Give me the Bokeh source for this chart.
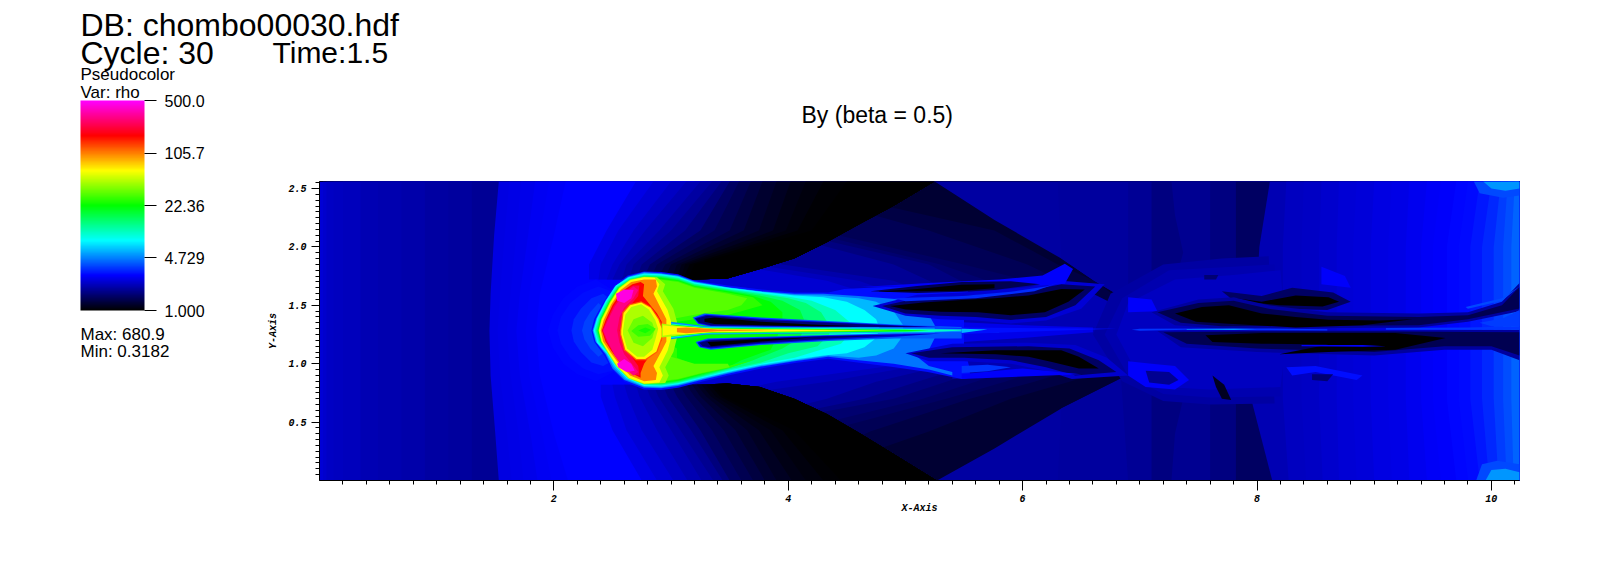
from bokeh.core.properties import value
from bokeh.embed import file_html
from bokeh.models import (ColorBar, ColumnDataSource, FixedTicker, LogColorMapper,
                          NumeralTickFormatter, Range1d)
from bokeh.plotting import figure
from bokeh.resources import INLINE
import numpy as np

# ---- texts and legend values ----
header_db = "DB: chombo00030.hdf"
header_cycle = "Cycle: 30"
header_time = "Time:1.5"
plot_title = "By (beta = 0.5)"
legend_name = "Pseudocolor"
legend_var = "Var: rho"
legend_max = "Max:  680.9"
legend_min = "Min:  0.3182"
legend_ticks = [1.0, 4.729, 22.36, 105.7, 500.0]
legend_labels = ["1.000", "4.729", "22.36", "105.7", "500.0"]
rho_low, rho_high = 1.0, 500.0
x_major = [2, 4, 6, 8, 10]
y_major = [0.5, 1.0, 1.5, 2.0, 2.5]
x_extent = (0.0, 10.24)
y_extent = (0.0, 2.56)
map_stops = ["#000000", "#0000ff", "#00ffff", "#00ff00", "#ffff00", "#ff0000", "#ff00ff"]

# ---- density field (rho, outline in axis units) ----
left_strip_x = [0.0, 0.03, 0.06, 0.12, 0.2, 0.35, 0.5, 0.7, 0.9, 1.1, 1.3]
left_strip_rho = [2.4, 2.3, 2.25, 2.2, 2.15, 2.1, 2.05, 2.0, 1.95, 1.9, 1.85]

front_y = [2.56, 2.1, 1.6, 1.28, 0.9, 0.4, 0.0]
front_rho = [2.5, 2.56, 2.62, 2.68, 2.74, 2.82]
front_x = [
    [1.53, 1.49, 1.46, 1.45, 1.46, 1.5, 1.53],
    [1.62, 1.58, 1.54, 1.52, 1.54, 1.6, 1.64],
    [1.72, 1.68, 1.63, 1.6, 1.63, 1.7, 1.74],
    [1.84, 1.78, 1.71, 1.68, 1.71, 1.8, 1.86],
    [1.96, 1.88, 1.79, 1.76, 1.79, 1.9, 1.98],
    [2.1, 2.0, 1.88, 1.85, 1.88, 2.0, 2.12],
]

# bright-to-dark contours inside the wedge between the black zones and the oblique shocks
wedge_y = [2.56, 2.14, 1.85, 1.71, 1.5, 1.0, 0.845, 0.7, 0.42, 0.0]
wedge_rho = [2.37, 2.16, 2.0, 1.84, 1.7, 1.59, 1.5, 1.42, 1.32, 1.25]
wedge_x = [
    [2.9, 2.9, 2.9, 3.2, 3.6, 3.6, 3.2, 2.9, 2.9, 2.9],
    [3.2, 3.2, 3.5, 4.33, 5.0, 5.0, 3.9, 3.2, 3.2, 3.2],
    [3.2, 3.3, 3.7, 4.6, 5.2, 5.2, 4.33, 3.3, 3.2, 3.2],
    [3.2, 3.5, 3.95, 4.9, 5.4, 5.4, 4.75, 4.33, 3.2, 3.2],
    [3.3, 3.8, 4.9, 5.2, 5.6, 5.6, 5.1, 4.65, 3.3, 3.3],
    [3.3, 3.95, 5.2, 5.47, 5.8, 5.8, 5.35, 4.9, 3.4, 3.4],
    [3.3, 4.1, 5.3, 5.7, 6.0, 6.0, 5.6, 5.15, 4.0, 3.5],
    [3.5, 4.25, 5.5, 6.04, 6.3, 6.3, 5.85, 5.35, 4.3, 3.6],
    [3.7, 5.2, 6.04, 6.33, 6.6, 6.6, 6.1, 5.55, 4.7, 3.8],
    [3.9, 5.76, 6.3, 6.61, 6.9, 6.9, 6.4, 5.9, 5.2, 4.0],
]

# the black zones end along these two curves
black_edge_top = [(3.2, 1.72), (3.48, 1.73), (3.76, 1.81), (4.05, 1.9), (4.33, 2.04), (4.62, 2.2), (4.9, 2.35), (5.25, 2.56)]
black_edge_bottom = [(3.2, 0.82), (3.48, 0.83), (3.76, 0.8), (4.05, 0.7), (4.33, 0.57), (4.62, 0.4), (4.9, 0.23), (5.27, 0.0)]

dark_rho = [2.55, 2.4, 2.25, 2.1, 1.95, 1.8, 1.65, 1.5, 1.4, 1.3, 1.22, 1.15, 1.1, 1.06, 1.03, 1.0]
dark_top_y = [2.56, 2.14, 1.85, 1.72]
dark_top_x = [
    [2.7, 2.45, 2.3, 2.3], [2.85, 2.55, 2.4, 2.38], [3.0, 2.68, 2.5, 2.45], [3.13, 2.78, 2.56, 2.5],
    [3.25, 2.9, 2.62, 2.58], [3.35, 3.0, 2.68, 2.64], [3.43, 3.12, 2.75, 2.7], [3.5, 3.25, 2.82, 2.76],
    [3.58, 3.37, 2.88, 2.82], [3.68, 3.5, 2.95, 2.88], [3.78, 3.62, 3.0, 2.94], [3.9, 3.75, 3.05, 3.0],
    [4.02, 3.87, 3.09, 3.04], [4.15, 3.98, 3.12, 3.08], [4.3, 4.08, 3.16, 3.1], [4.5, 4.2, 3.2, 3.14],
]
dark_bottom_y = [0.0, 0.43, 0.72, 0.82]
dark_bottom_x = [
    [2.75, 2.5, 2.4, 2.4], [2.88, 2.62, 2.52, 2.5], [3.02, 2.75, 2.63, 2.6], [3.14, 2.88, 2.73, 2.7],
    [3.26, 3.0, 2.82, 2.78], [3.36, 3.08, 2.89, 2.85], [3.44, 3.17, 2.97, 2.93], [3.5, 3.25, 3.05, 3.0],
    [3.6, 3.35, 3.13, 3.07], [3.7, 3.45, 3.2, 3.13], [3.8, 3.55, 3.25, 3.18], [3.9, 3.65, 3.3, 3.22],
    [4.03, 3.75, 3.34, 3.26], [4.15, 3.85, 3.38, 3.3], [4.3, 3.95, 3.42, 3.33], [4.45, 4.05, 3.45, 3.36],
]

# right of the oblique shocks
behind_shock_layers = [
    (1.95, [(5.25, 2.56), (5.76, 2.23), (6.33, 1.9), (6.61, 1.71), (6.9, 1.54), (7.35, 1.28), (6.84, 0.873), (6.33, 0.617), (5.76, 0.275), (5.27, 0.0), (10.24, 0.0), (10.24, 2.56)]),
    (1.9, [(6.3, 2.56), (6.33, 1.9), (6.61, 1.71), (6.9, 1.54), (7.35, 1.28), (6.84, 0.873), (6.33, 0.617), (6.3, 0.0), (10.24, 0.0), (10.24, 2.56)]),
    (1.84, [(6.9, 2.56), (6.9, 1.54), (7.35, 1.28), (6.84, 0.873), (6.9, 0.0), (10.24, 0.0), (10.24, 2.56)]),
    (1.7, [(7.1, 2.56), (7.1, 1.42), (7.35, 1.28), (7.1, 1.05), (7.1, 0.0), (10.24, 0.0), (10.24, 2.56)]),
    (1.8, [(7.27, 2.56), (7.3, 2.27), (7.37, 1.95), (7.3, 1.7), (7.35, 1.28), (7.25, 0.95), (7.37, 0.7), (7.3, 0.4), (7.27, 0.0), (10.24, 0.0), (10.24, 2.56)]),
    (1.7, [(7.6, 2.56), (7.6, 0.0), (10.24, 0.0), (10.24, 2.56)]),
    (1.5, [(7.82, 2.56), (7.82, 0.0), (10.24, 0.0), (10.24, 2.56)]),
]
right_y = [2.56, 2.0, 0.7, 0.0]
right_rho = [2.1, 2.18, 2.25, 2.32, 2.4, 2.45, 2.5, 2.58, 2.65, 2.73, 2.8, 2.88, 2.95, 3.1, 3.3, 3.6, 3.9, 4.2]
right_x = [
    [8.11, 8.02, 7.95, 8.13], [8.25, 8.22, 8.22, 8.27], [8.4, 8.38, 8.38, 8.42], [8.55, 8.53, 8.53, 8.56],
    [8.7, 8.68, 8.68, 8.7], [8.85, 8.82, 8.82, 8.85], [9.0, 8.97, 8.97, 9.0], [9.15, 9.12, 9.12, 9.15],
    [9.3, 9.27, 9.27, 9.3], [9.45, 9.4, 9.4, 9.45], [9.57, 9.5, 9.5, 9.57], [9.7, 9.62, 9.62, 9.7],
    [9.8, 9.72, 9.72, 9.8], [9.9, 9.82, 9.82, 9.9], [10.0, 9.92, 9.92, 9.98], [10.08, 10.02, 10.02, 10.06],
    [10.14, 10.1, 10.1, 10.13], [10.2, 10.17, 10.17, 10.19],
]
corner_layers = [
    (3.8, [(9.85, 2.56), (9.9, 2.46), (10.1, 2.42), (10.24, 2.44), (10.24, 2.56)]),
    (5.2, [(9.93, 2.56), (10.0, 2.5), (10.12, 2.48), (10.24, 2.5), (10.24, 2.56)]),
    (3.8, [(9.87, 0.0), (9.92, 0.14), (10.05, 0.17), (10.24, 0.14), (10.24, 0.0)]),
    (5.2, [(9.95, 0.0), (10.0, 0.09), (10.12, 0.1), (10.24, 0.07), (10.24, 0.0)]),
]

glow_layers = [
    (2.9, [(1.95, 1.285), (1.99, 1.42), (2.08, 1.56), (2.2, 1.66), (2.36, 1.72), (2.55, 1.6), (2.55, 0.95), (2.36, 0.85), (2.2, 0.91), (2.08, 1.0), (1.99, 1.14)]),
    (3.0, [(2.03, 1.285), (2.06, 1.4), (2.14, 1.52), (2.25, 1.61), (2.38, 1.66), (2.55, 1.6), (2.55, 0.95), (2.38, 0.91), (2.25, 0.96), (2.14, 1.05), (2.06, 1.17)]),
    (3.3, [(2.15, 1.285), (2.17, 1.38), (2.23, 1.47), (2.32, 1.56), (2.42, 1.6), (2.55, 1.5), (2.55, 1.05), (2.42, 0.98), (2.32, 1.01), (2.23, 1.1), (2.17, 1.19)]),
    (3.7, [(2.24, 1.285), (2.26, 1.36), (2.31, 1.44), (2.38, 1.52), (2.5, 1.4), (2.5, 1.15), (2.38, 1.06), (2.31, 1.13), (2.26, 1.21)]),
]

zone_layers = [
    (2.1, [(5.4, 1.65), (6.0, 1.7), (6.4, 1.7), (6.9, 1.45), (7.1, 1.3), (6.9, 1.0), (6.3, 0.95), (5.9, 0.9), (5.4, 0.87)]),
    (2.6, [(5.4, 1.36), (6.0, 1.33), (6.6, 1.31), (6.6, 1.27), (6.0, 1.22), (5.4, 1.18)]),
    (1.95, [(6.75, 1.6), (7.2, 1.85), (7.7, 1.9), (8.1, 1.92), (8.15, 0.66), (7.6, 0.65), (7.2, 0.68), (6.85, 0.85), (6.6, 1.25)]),
    (2.05, [(6.85, 1.56), (7.25, 1.8), (7.8, 1.83), (8.15, 1.85), (8.2, 0.72), (7.6, 0.71), (7.2, 0.74), (6.9, 0.9), (6.7, 1.25)]),
    (2.2, [(6.9, 1.52), (7.3, 1.72), (7.8, 1.76), (8.2, 1.8), (8.25, 1.2), (8.2, 0.8), (7.6, 0.78), (7.2, 0.8), (6.95, 0.97), (6.8, 1.25)]),
    (2.8, [(6.9, 1.57), (7.1, 1.55), (7.15, 1.45), (6.9, 1.44)]),
    (2.8, [(8.55, 1.83), (8.75, 1.75), (8.8, 1.65), (8.55, 1.68)]),
    (2.8, [(6.9, 1.02), (7.1, 1.0), (7.3, 0.98), (7.42, 0.86), (7.3, 0.78), (7.05, 0.8), (6.9, 0.9)]),
    (1.8, [(7.05, 0.94), (7.25, 0.93), (7.33, 0.86), (7.25, 0.82), (7.08, 0.84)]),
    (3.0, [(8.25, 0.97), (8.5, 0.98), (8.9, 0.9), (8.85, 0.86), (8.5, 0.93), (8.3, 0.9)]),
    (1.6, [(8.47, 0.91), (8.65, 0.91), (8.6, 0.85), (8.47, 0.86)]),
    (1.15, [(7.62, 0.9), (7.72, 0.82), (7.78, 0.69), (7.7, 0.7), (7.65, 0.8)]),
    (1.6, [(7.55, 1.76), (7.67, 1.76), (7.65, 1.72), (7.55, 1.72)]),
]

wake_layers = [
    (3.0, [(2.32, 1.285), (2.345, 1.385), (2.43, 1.54), (2.515, 1.67), (2.63, 1.755), (2.77, 1.79), (2.915, 1.785), (3.06, 1.765), (3.2, 1.71), (3.485, 1.67), (3.77, 1.635), (4.055, 1.61), (4.34, 1.61), (4.48, 1.64), (4.77, 1.655), (5.19, 1.67), (5.48, 1.685), (5.55, 1.6), (5.5, 1.4), (5.5, 1.15), (5.55, 0.95), (5.55, 0.88), (5.48, 0.87), (5.19, 0.93), (4.91, 0.97), (4.34, 1.043), (4.055, 1.006), (3.77, 0.96), (3.485, 0.9), (3.26, 0.845), (3.06, 0.795), (2.915, 0.775), (2.77, 0.78), (2.6, 0.845), (2.5, 0.945), (2.43, 1.07), (2.345, 1.185)]),
    (4.5, [(2.33, 1.285), (2.36, 1.385), (2.44, 1.54), (2.52, 1.66), (2.63, 1.745), (2.77, 1.785), (2.915, 1.775), (3.06, 1.755), (3.2, 1.705), (3.485, 1.655), (3.77, 1.62), (4.055, 1.6), (4.3, 1.6), (4.6, 1.58), (4.91, 1.555), (5.1, 1.5), (5.2, 1.42), (5.25, 1.33), (5.25, 1.22), (5.2, 1.12), (5.1, 1.06), (5.2, 0.98), (5.4, 0.93), (5.4, 0.9), (5.2, 0.95), (4.9, 1.0), (4.6, 1.03), (4.34, 1.06), (4.055, 1.02), (3.77, 0.975), (3.485, 0.915), (3.26, 0.86), (3.06, 0.81), (2.915, 0.79), (2.77, 0.795), (2.6, 0.86), (2.5, 0.96), (2.44, 1.08), (2.355, 1.19)]),
    (6.0, [(2.335, 1.285), (2.365, 1.388), (2.442, 1.54), (2.525, 1.665), (2.635, 1.742), (2.77, 1.777), (2.915, 1.77), (3.06, 1.75), (3.2, 1.7), (3.485, 1.652), (3.77, 1.617), (4.055, 1.59), (4.3, 1.585), (4.6, 1.56), (4.75, 1.53), (4.9, 1.45), (4.98, 1.33), (4.98, 1.24), (4.9, 1.13), (4.75, 1.07), (4.6, 1.05), (4.34, 1.07), (4.055, 1.028), (3.77, 0.982), (3.485, 0.922), (3.26, 0.867), (3.06, 0.817), (2.915, 0.797), (2.77, 0.802), (2.61, 0.867), (2.51, 0.97), (2.445, 1.085), (2.36, 1.185)]),
    (8.0, [(2.34, 1.285), (2.37, 1.39), (2.445, 1.54), (2.53, 1.67), (2.64, 1.74), (2.77, 1.77), (2.915, 1.765), (3.06, 1.745), (3.2, 1.695), (3.485, 1.65), (3.77, 1.615), (4.055, 1.585), (4.3, 1.57), (4.5, 1.53), (4.65, 1.46), (4.75, 1.38), (4.78, 1.3), (4.75, 1.22), (4.65, 1.14), (4.5, 1.09), (4.3, 1.07), (4.055, 1.035), (3.77, 0.99), (3.485, 0.93), (3.26, 0.875), (3.06, 0.825), (2.915, 0.805), (2.77, 0.81), (2.62, 0.875), (2.52, 0.98), (2.45, 1.09), (2.37, 1.18)]),
    (10.5, [(2.35, 1.285), (2.38, 1.39), (2.452, 1.535), (2.535, 1.662), (2.645, 1.732), (2.77, 1.762), (2.915, 1.757), (3.06, 1.737), (3.2, 1.687), (3.485, 1.642), (3.77, 1.605), (4.02, 1.572), (4.2, 1.54), (4.4, 1.46), (4.52, 1.36), (4.55, 1.28), (4.45, 1.17), (4.25, 1.11), (4.055, 1.05), (3.77, 1.0), (3.485, 0.94), (3.26, 0.882), (3.06, 0.832), (2.915, 0.812), (2.77, 0.817), (2.625, 0.882), (2.525, 0.985), (2.455, 1.095), (2.38, 1.183)]),
    (14.0, [(2.36, 1.285), (2.39, 1.39), (2.46, 1.53), (2.54, 1.655), (2.65, 1.725), (2.77, 1.755), (2.915, 1.75), (3.06, 1.73), (3.2, 1.68), (3.485, 1.635), (3.77, 1.595), (4.0, 1.56), (4.15, 1.52), (4.28, 1.44), (4.35, 1.33), (4.35, 1.25), (4.25, 1.15), (4.0, 1.09), (3.77, 1.01), (3.485, 0.95), (3.26, 0.89), (3.06, 0.84), (2.915, 0.82), (2.77, 0.825), (2.63, 0.89), (2.53, 0.99), (2.46, 1.1), (2.39, 1.185)]),
    (18.0, [(2.37, 1.285), (2.395, 1.385), (2.465, 1.525), (2.545, 1.65), (2.655, 1.717), (2.77, 1.747), (2.915, 1.742), (3.06, 1.722), (3.2, 1.672), (3.485, 1.627), (3.75, 1.585), (3.95, 1.54), (4.1, 1.46), (4.15, 1.34), (4.1, 1.22), (3.95, 1.13), (3.7, 1.03), (3.485, 0.96), (3.26, 0.9), (3.06, 0.847), (2.915, 0.827), (2.77, 0.832), (2.635, 0.897), (2.535, 0.995), (2.465, 1.105), (2.395, 1.187)]),
    (22.0, [(2.375, 1.285), (2.4, 1.38), (2.47, 1.52), (2.55, 1.645), (2.66, 1.71), (2.77, 1.74), (2.915, 1.735), (3.06, 1.715), (3.2, 1.665), (3.485, 1.62), (3.7, 1.58), (3.85, 1.53), (3.95, 1.44), (3.95, 1.33), (3.9, 1.22), (3.85, 1.12), (3.6, 1.03), (3.485, 0.97), (3.26, 0.91), (3.06, 0.855), (2.915, 0.835), (2.77, 0.84), (2.64, 0.905), (2.54, 1.0), (2.47, 1.11), (2.4, 1.19)]),
    (27.0, [(2.9, 1.3), (2.9, 1.725), (3.06, 1.708), (3.2, 1.658), (3.485, 1.61), (3.7, 1.57), (3.78, 1.5), (3.6, 1.45), (3.485, 1.42), (3.2, 1.38), (3.05, 1.36)]),
    (32.0, [(2.9, 1.32), (2.9, 1.72), (3.06, 1.7), (3.2, 1.65), (3.485, 1.6), (3.65, 1.56), (3.6, 1.5), (3.485, 1.46), (3.2, 1.42), (3.0, 1.38)]),
    (27.0, [(2.9, 1.22), (3.05, 1.13), (3.05, 1.05), (3.2, 0.99), (3.485, 0.98), (3.7, 1.03), (3.5, 0.965), (3.26, 0.915), (3.06, 0.862), (2.9, 0.842)]),
    (32.0, [(2.9, 1.22), (3.0, 1.14), (3.0, 1.06), (3.2, 1.0), (3.485, 1.0), (3.5, 0.97), (3.26, 0.92), (3.06, 0.87), (2.9, 0.85)]),
]

head_layers = [
    (42.0, [(2.38, 1.285), (2.405, 1.382), (2.475, 1.525), (2.555, 1.65), (2.652, 1.722), (2.77, 1.745), (2.88, 1.74), (2.95, 1.68), (2.93, 1.62), (3.02, 1.47), (3.05, 1.36), (3.05, 1.22), (3.02, 1.1), (2.95, 0.97), (2.98, 0.9), (2.95, 0.835), (2.77, 0.825), (2.637, 0.873), (2.535, 0.975), (2.465, 1.085), (2.405, 1.188)]),
    (63.0, [(2.385, 1.285), (2.41, 1.38), (2.48, 1.52), (2.56, 1.645), (2.65, 1.715), (2.77, 1.74), (2.86, 1.735), (2.9, 1.68), (2.88, 1.62), (2.97, 1.46), (3.0, 1.36), (3.0, 1.22), (2.97, 1.11), (2.9, 0.97), (2.93, 0.9), (2.9, 0.84), (2.77, 0.83), (2.64, 0.88), (2.54, 0.98), (2.47, 1.09), (2.41, 1.19)]),
    (105.0, [(2.4, 1.285), (2.425, 1.375), (2.49, 1.51), (2.57, 1.63), (2.66, 1.7), (2.77, 1.72), (2.87, 1.72), (2.88, 1.66), (2.85, 1.6), (2.92, 1.46), (2.96, 1.38), (2.96, 1.19), (2.92, 1.11), (2.85, 0.98), (2.88, 0.92), (2.87, 0.86), (2.77, 0.85), (2.65, 0.9), (2.56, 0.99), (2.48, 1.1), (2.42, 1.19)]),
    (177.0, [(2.41, 1.285), (2.44, 1.37), (2.5, 1.5), (2.58, 1.62), (2.67, 1.68), (2.74, 1.7), (2.77, 1.68), (2.76, 1.58), (2.88, 1.43), (2.92, 1.36), (2.92, 1.2), (2.86, 1.13), (2.77, 1.0), (2.74, 0.92), (2.74, 0.88), (2.66, 0.92), (2.57, 1.0), (2.49, 1.11), (2.44, 1.19)]),
    (240.0, [(2.415, 1.285), (2.45, 1.37), (2.51, 1.495), (2.59, 1.61), (2.675, 1.67), (2.73, 1.67), (2.72, 1.58), (2.62, 1.46), (2.56, 1.285), (2.62, 1.12), (2.72, 0.98), (2.73, 0.9), (2.67, 0.91), (2.59, 0.98), (2.51, 1.09), (2.45, 1.19)]),
    (300.0, [(2.42, 1.285), (2.46, 1.37), (2.52, 1.49), (2.6, 1.6), (2.68, 1.66), (2.72, 1.63), (2.68, 1.56), (2.6, 1.48), (2.56, 1.4), (2.54, 1.285), (2.56, 1.18), (2.6, 1.08), (2.68, 0.98), (2.72, 0.93), (2.68, 0.9), (2.6, 0.96), (2.52, 1.07), (2.46, 1.19)]),
    (440.0, [(2.53, 1.6), (2.6, 1.635), (2.68, 1.63), (2.66, 1.56), (2.6, 1.52), (2.54, 1.54)]),
    (440.0, [(2.54, 1.0), (2.6, 1.04), (2.66, 1.0), (2.69, 0.94), (2.62, 0.93), (2.55, 0.97)]),
    (120.0, [(2.565, 1.285), (2.585, 1.44), (2.645, 1.51), (2.745, 1.535), (2.83, 1.485), (2.9, 1.385), (2.93, 1.3), (2.93, 1.23), (2.885, 1.1), (2.785, 1.03), (2.7, 1.03), (2.6, 1.115), (2.565, 1.25)]),
    (63.0, [(2.575, 1.285), (2.595, 1.435), (2.65, 1.5), (2.745, 1.525), (2.825, 1.48), (2.89, 1.38), (2.92, 1.3), (2.92, 1.235), (2.875, 1.105), (2.78, 1.04), (2.705, 1.04), (2.61, 1.12), (2.575, 1.25)]),
    (45.0, [(2.59, 1.285), (2.61, 1.42), (2.66, 1.485), (2.745, 1.51), (2.81, 1.465), (2.865, 1.375), (2.89, 1.3), (2.87, 1.22), (2.84, 1.12), (2.77, 1.06), (2.71, 1.06), (2.625, 1.13), (2.59, 1.25)]),
    (35.0, [(2.63, 1.285), (2.68, 1.38), (2.76, 1.41), (2.84, 1.35), (2.86, 1.29), (2.84, 1.22), (2.76, 1.15), (2.68, 1.18)]),
    (28.0, [(2.66, 1.28), (2.72, 1.33), (2.8, 1.34), (2.87, 1.3), (2.82, 1.24), (2.72, 1.23)]),
    (24.0, [(2.72, 1.285), (2.78, 1.31), (2.83, 1.29), (2.78, 1.26)]),
]

lane_layers = [
    (4.0, [(3.185, 1.395), (3.285, 1.43), (3.77, 1.395), (4.34, 1.365), (4.91, 1.335), (5.48, 1.315), (5.48, 1.305), (4.91, 1.31), (4.34, 1.31), (3.77, 1.31), (3.34, 1.315), (3.23, 1.34)]),
    (2.4, [(3.2, 1.39), (3.3, 1.42), (3.77, 1.385), (4.34, 1.357), (4.91, 1.33), (5.3, 1.315), (4.91, 1.312), (4.34, 1.314), (3.77, 1.318), (3.34, 1.322), (3.235, 1.345)]),
    (1.6, [(3.21, 1.385), (3.31, 1.41), (3.77, 1.375), (4.34, 1.35), (4.91, 1.325), (5.19, 1.315), (4.91, 1.315), (4.34, 1.318), (3.77, 1.325), (3.34, 1.33), (3.24, 1.35)]),
    (1.0, [(3.285, 1.385), (3.37, 1.395), (3.77, 1.36), (4.2, 1.335), (4.62, 1.32), (4.2, 1.32), (3.77, 1.33), (3.37, 1.34), (3.285, 1.36)]),
    (4.0, [(3.21, 1.185), (3.31, 1.215), (3.77, 1.23), (4.34, 1.245), (4.91, 1.26), (5.48, 1.265), (5.48, 1.215), (4.91, 1.215), (4.34, 1.195), (3.77, 1.16), (3.34, 1.12), (3.24, 1.14)]),
    (2.4, [(3.225, 1.182), (3.32, 1.208), (3.77, 1.222), (4.34, 1.24), (4.91, 1.252), (5.3, 1.258), (4.91, 1.23), (4.34, 1.205), (3.77, 1.17), (3.34, 1.13), (3.25, 1.145)]),
    (1.6, [(3.24, 1.18), (3.34, 1.2), (3.77, 1.215), (4.34, 1.235), (4.91, 1.245), (4.34, 1.215), (3.77, 1.18), (3.34, 1.14), (3.27, 1.15)]),
    (1.0, [(3.31, 1.185), (3.77, 1.21), (4.2, 1.225), (3.77, 1.19), (3.34, 1.15)]),
]

jet_layers = [
    (5.0, [(3.0, 1.36), (3.3, 1.32), (4.3, 1.31), (5.48, 1.3), (5.8, 1.295), (5.8, 1.27), (5.48, 1.268), (4.3, 1.26), (3.3, 1.25), (3.0, 1.21)]),
    (10.0, [(3.0, 1.345), (3.3, 1.312), (4.3, 1.305), (5.2, 1.295), (5.6, 1.288), (5.2, 1.272), (4.3, 1.265), (3.3, 1.258), (3.0, 1.22)]),
    (22.0, [(3.0, 1.335), (3.3, 1.306), (4.3, 1.298), (5.0, 1.29), (5.2, 1.283), (5.0, 1.275), (4.3, 1.27), (3.3, 1.263), (3.0, 1.23)]),
    (45.0, [(2.92, 1.345), (3.05, 1.325), (3.3, 1.303), (3.6, 1.297), (4.3, 1.292), (4.9, 1.283), (4.3, 1.275), (3.6, 1.27), (3.3, 1.267), (3.05, 1.24), (2.92, 1.225)]),
    (63.0, [(2.93, 1.33), (3.0, 1.32), (3.15, 1.315), (3.35, 1.298), (3.9, 1.292), (4.6, 1.284), (3.9, 1.277), (3.35, 1.272), (3.15, 1.255), (3.0, 1.25), (2.93, 1.24)]),
    (105.0, [(3.05, 1.305), (3.13, 1.31), (3.22, 1.305), (3.4, 1.293), (3.9, 1.289), (3.4, 1.277), (3.22, 1.267), (3.13, 1.26), (3.05, 1.27)]),
]

cavity_layers = [
    (2.4, [(4.72, 1.495), (5.1, 1.59), (5.48, 1.61), (5.76, 1.63), (6.05, 1.655), (6.33, 1.71), (6.7, 1.68), (6.5, 1.47), (6.2, 1.37), (5.9, 1.345), (5.6, 1.37), (5.3, 1.38), (5.0, 1.41)]),
    (1.5, [(4.8, 1.495), (5.1, 1.56), (5.48, 1.58), (5.76, 1.6), (6.05, 1.625), (6.33, 1.68), (6.62, 1.66), (6.45, 1.5), (6.2, 1.4), (5.9, 1.375), (5.6, 1.4), (5.3, 1.41), (5.0, 1.43)]),
    (1.0, [(4.87, 1.495), (5.15, 1.525), (5.48, 1.545), (5.76, 1.56), (6.05, 1.585), (6.33, 1.64), (6.53, 1.635), (6.39, 1.53), (6.19, 1.44), (5.9, 1.415), (5.62, 1.44), (5.3, 1.445), (5.0, 1.465)]),
    (2.8, [(4.62, 1.656), (5.2, 1.69), (5.8, 1.72), (6.17, 1.755), (6.36, 1.855), (6.43, 1.81), (6.36, 1.685), (6.16, 1.67), (5.8, 1.69), (5.2, 1.66)]),
    (1.4, [(4.7, 1.62), (5.1, 1.665), (5.48, 1.7), (5.9, 1.705), (6.15, 1.68), (5.76, 1.63), (5.48, 1.615), (5.1, 1.605)]),
    (1.0, [(4.75, 1.615), (5.1, 1.64), (5.48, 1.675), (5.76, 1.68), (5.76, 1.645), (5.48, 1.625), (5.1, 1.62)]),
    (3.4, [(4.9, 1.56), (5.48, 1.58), (5.9, 1.615), (6.2, 1.66), (6.3, 1.69), (6.1, 1.62), (5.6, 1.56), (5.0, 1.535)]),
    (2.3, [(5.0, 1.09), (5.4, 1.17), (6.05, 1.18), (6.45, 1.16), (6.72, 1.05), (6.9, 0.9), (6.42, 0.87), (6.2, 0.94), (5.9, 1.0), (5.5, 1.02), (5.2, 1.02)]),
    (1.5, [(5.05, 1.09), (5.4, 1.14), (6.05, 1.15), (6.4, 1.13), (6.65, 1.03), (6.8, 0.93), (6.45, 0.9), (6.2, 0.97), (5.9, 1.03), (5.5, 1.05), (5.2, 1.05)]),
    (1.0, [(5.3, 1.09), (5.77, 1.115), (6.05, 1.115), (6.33, 1.115), (6.48, 1.06), (6.65, 0.96), (6.48, 0.96), (6.25, 1.015), (6.05, 1.06), (5.77, 1.08)]),
    (3.5, [(5.48, 0.98), (5.7, 0.99), (5.9, 0.97), (5.7, 0.935), (5.48, 0.92)]),
    (2.8, [(5.48, 0.91), (6.0, 0.96), (6.5, 0.91), (6.0, 0.89), (5.48, 0.87)]),
    (1.5, [(7.7, 1.62), (8.04, 1.58), (8.3, 1.65), (8.65, 1.61), (8.8, 1.53), (8.6, 1.46), (8.19, 1.47), (7.85, 1.5)]),
    (1.0, [(7.76, 1.57), (8.04, 1.53), (8.33, 1.585), (8.61, 1.57), (8.7, 1.53), (8.56, 1.49), (8.19, 1.5), (7.9, 1.53)]),
    (1.9, [(7.1, 1.44), (7.5, 1.55), (7.8, 1.57), (8.1, 1.5), (8.6, 1.44), (9.38, 1.43), (9.8, 1.44), (10.09, 1.53), (10.24, 1.69), (10.24, 1.45), (9.8, 1.36), (9.38, 1.31), (7.7, 1.3), (7.3, 1.33)]),
    (1.4, [(7.15, 1.44), (7.5, 1.52), (7.8, 1.54), (8.1, 1.47), (8.6, 1.41), (9.38, 1.4), (9.8, 1.415), (10.09, 1.5), (10.24, 1.657), (10.24, 1.472), (9.8, 1.38), (9.38, 1.33), (7.7, 1.32), (7.35, 1.35)]),
    (1.0, [(7.3, 1.43), (7.53, 1.485), (7.76, 1.5), (8.04, 1.43), (8.33, 1.4), (8.61, 1.376), (9.04, 1.37), (9.33, 1.38), (8.9, 1.33), (8.33, 1.31), (7.76, 1.342), (7.48, 1.36)]),
    (3.8, [(9.78, 1.485), (10.09, 1.56), (10.24, 1.66), (10.09, 1.54), (9.8, 1.47)]),
    (3.6, [(9.9, 1.35), (10.1, 1.39), (10.24, 1.46), (10.24, 1.32), (10.0, 1.32)]),
    (1.9, [(7.15, 1.28), (8.0, 1.285), (9.0, 1.285), (10.24, 1.29), (10.24, 1.03), (10.0, 1.12), (9.6, 1.12), (9.0, 1.07), (8.0, 1.1), (7.35, 1.14)]),
    (1.4, [(7.2, 1.27), (8.0, 1.275), (9.0, 1.275), (10.24, 1.27), (10.24, 1.07), (10.0, 1.15), (9.6, 1.15), (9.0, 1.1), (8.0, 1.13), (7.4, 1.17)]),
    (1.0, [(7.56, 1.243), (8.04, 1.262), (8.61, 1.262), (9.18, 1.262), (9.61, 1.22), (9.18, 1.12), (8.61, 1.1), (8.19, 1.08), (8.61, 1.165), (8.04, 1.171), (7.62, 1.186)]),
    (2.8, [(8.38, 1.16), (8.9, 1.16), (9.1, 1.15), (8.9, 1.145), (8.38, 1.15)]),
    (3.0, [(5.48, 1.31), (6.8, 1.3), (5.48, 1.255)]),
    (6.0, [(5.48, 1.3), (5.7, 1.293), (5.48, 1.262)]),
    (3.5, [(6.93, 1.29), (7.0, 1.3), (7.5, 1.302), (8.0, 1.302), (8.6, 1.295), (8.6, 1.285), (8.0, 1.287), (7.5, 1.292), (7.0, 1.283)]),
    (6.0, [(7.4, 1.298), (7.8, 1.3), (8.0, 1.298), (7.8, 1.29), (7.4, 1.292)]),
    (3.5, [(9.1, 1.305), (9.8, 1.31), (10.24, 1.32), (10.24, 1.29), (9.8, 1.29), (9.1, 1.29)]),
]


# ---- build the stacked outlines, back to front ----
def rows(layers):
    for rho, outline in layers:
        yield rho, [q[0] for q in outline], [q[1] for q in outline]


def edge_fill(rho, xs, ys, edge):
    tail = [q for q in edge if q[0] > xs[-1]]
    return rho, list(xs) + [q[0] for q in tail], list(ys) + [q[1] for q in tail]


x_end, y_end = x_extent[1], y_extent[1]
stack = []
for x0, rho in zip(left_strip_x, left_strip_rho):
    stack.append((rho, [x0, x_end, x_end, x0], [0.0, 0.0, y_end, y_end]))
for rho, xs in zip(front_rho, front_x):
    stack.append((rho, list(xs) + [x_end, x_end], list(front_y) + [0.0, y_end]))
for rho, xs in zip(wedge_rho, wedge_x):
    stack.append((rho, list(xs) + [x_end, x_end], list(wedge_y) + [0.0, y_end]))
for rho, xs in zip(dark_rho, dark_top_x):
    stack.append(edge_fill(rho, xs, dark_top_y, black_edge_top))
for rho, xs in zip(dark_rho, dark_bottom_x):
    stack.append(edge_fill(rho, xs, dark_bottom_y, black_edge_bottom))
stack.extend(rows(behind_shock_layers))
for rho, xs in zip(right_rho, right_x):
    stack.append((rho, list(xs) + [x_end, x_end], list(right_y) + [0.0, y_end]))
for group in (corner_layers, glow_layers, zone_layers, wake_layers,
              head_layers, lane_layers, jet_layers, cavity_layers):
    stack.extend(rows(group))

# ---- colour scale ----
stop_rgb = np.array([[int(c[i:i + 2], 16) for i in (1, 3, 5)] for c in map_stops], dtype=float)
steps = np.linspace(0, 1, 360)
channels = [np.interp(steps, np.linspace(0, 1, len(map_stops)), stop_rgb[:, k]) for k in range(3)]
palette = ["#%02x%02x%02x" % (int(round(r)), int(round(g)), int(round(b))) for r, g, b in zip(*channels)]
mapper = LogColorMapper(palette=palette, low=rho_low, high=rho_high)

# ---- figure ----
frame_left, frame_top, frame_w, frame_h = 319, 181, 1200, 299
p = figure(width=1590, height=560, output_backend="svg", toolbar_location=None,
           x_range=Range1d(*x_extent), y_range=Range1d(*y_extent),
           min_border_left=frame_left, min_border_right=71, min_border_top=frame_top, min_border_bottom=80)
p.grid.visible = False
p.outline_line_color = "#000000"
p.outline_line_width = 1

source = ColumnDataSource(data=dict(rho=[s[0] for s in stack], xs=[s[1] for s in stack], ys=[s[2] for s in stack]))
p.patches("xs", "ys", source=source, fill_color={"field": "rho", "transform": mapper}, line_color=None)

mono = "Liberation Mono"
for axis, major, minor_step, span, fmt, major_len, label in (
    (p.xaxis[0], x_major, 0.2, x_extent, "0", 10, "X-Axis"),
    (p.yaxis[0], y_major, 0.05, y_extent, "0.0", 8, "Y-Axis"),
):
    minors = [round(v, 3) for v in np.arange(span[0], span[1], minor_step)
              if v > 1e-6 and min(abs(v - m) for m in major) > 1e-6]
    axis.ticker = FixedTicker(ticks=major, minor_ticks=minors)
    axis.formatter = NumeralTickFormatter(format=fmt)
    axis.axis_label = label
    axis.axis_label_text_font = mono
    axis.axis_label_text_font_style = "bold italic"
    axis.axis_label_text_font_size = "10px"
    axis.axis_label_text_color = "#000000"
    axis.major_label_text_font = mono
    axis.major_label_text_font_style = "bold italic"
    axis.major_label_text_font_size = "10px"
    axis.major_label_text_color = "#000000"
    axis.axis_line_color = "#000000"
    axis.major_tick_line_color = "#000000"
    axis.minor_tick_line_color = "#000000"
    axis.major_tick_in = 0
    axis.major_tick_out = major_len
    axis.minor_tick_in = 0
    axis.minor_tick_out = 4
p.xaxis[0].major_label_standoff = 4
p.xaxis[0].axis_label_standoff = -2
p.yaxis[0].major_label_standoff = 5
p.yaxis[0].axis_label_standoff = 6

bar = ColorBar(color_mapper=mapper, location=(-239, 170), width=64, height=210, padding=0, margin=0,
               ticker=FixedTicker(ticks=legend_ticks, minor_ticks=[]),
               major_label_overrides={v: t for v, t in zip(legend_ticks, legend_labels)},
               major_label_text_font="Liberation Sans", major_label_text_font_size="16px",
               major_label_text_color="#000000", label_standoff=8,
               major_tick_line_color="#000000", major_tick_in=0, major_tick_out=12,
               bar_line_color=None, border_line_color=None, background_fill_alpha=0)
p.add_layout(bar)


# free texts sit outside the frame: given by page pixel (left edge, baseline)
def note(text, page_x, page_y, size):
    x = (page_x - frame_left) / frame_w * x_extent[1]
    y = (frame_top + frame_h - page_y) / frame_h * y_extent[1]
    p.text(x=[x], y=[y], text=[text], level="overlay", text_font=value("Liberation Sans"),
           text_font_size=size, text_color="#000000", text_baseline="alphabetic", text_align="left")


note(header_db, 80, 24, "32px")
note(header_cycle, 80, 52, "32px")
note(header_time, 272, 52, "30px")
note(legend_name, 80, 74, "17px")
note(legend_var, 80, 92, "17px")
note(legend_max, 80, 334, "17px")
note(legend_min, 80, 351, "17px")
note(plot_title, 801, 114, "23px")

open("out.html", "w").write(file_html(p, INLINE))
